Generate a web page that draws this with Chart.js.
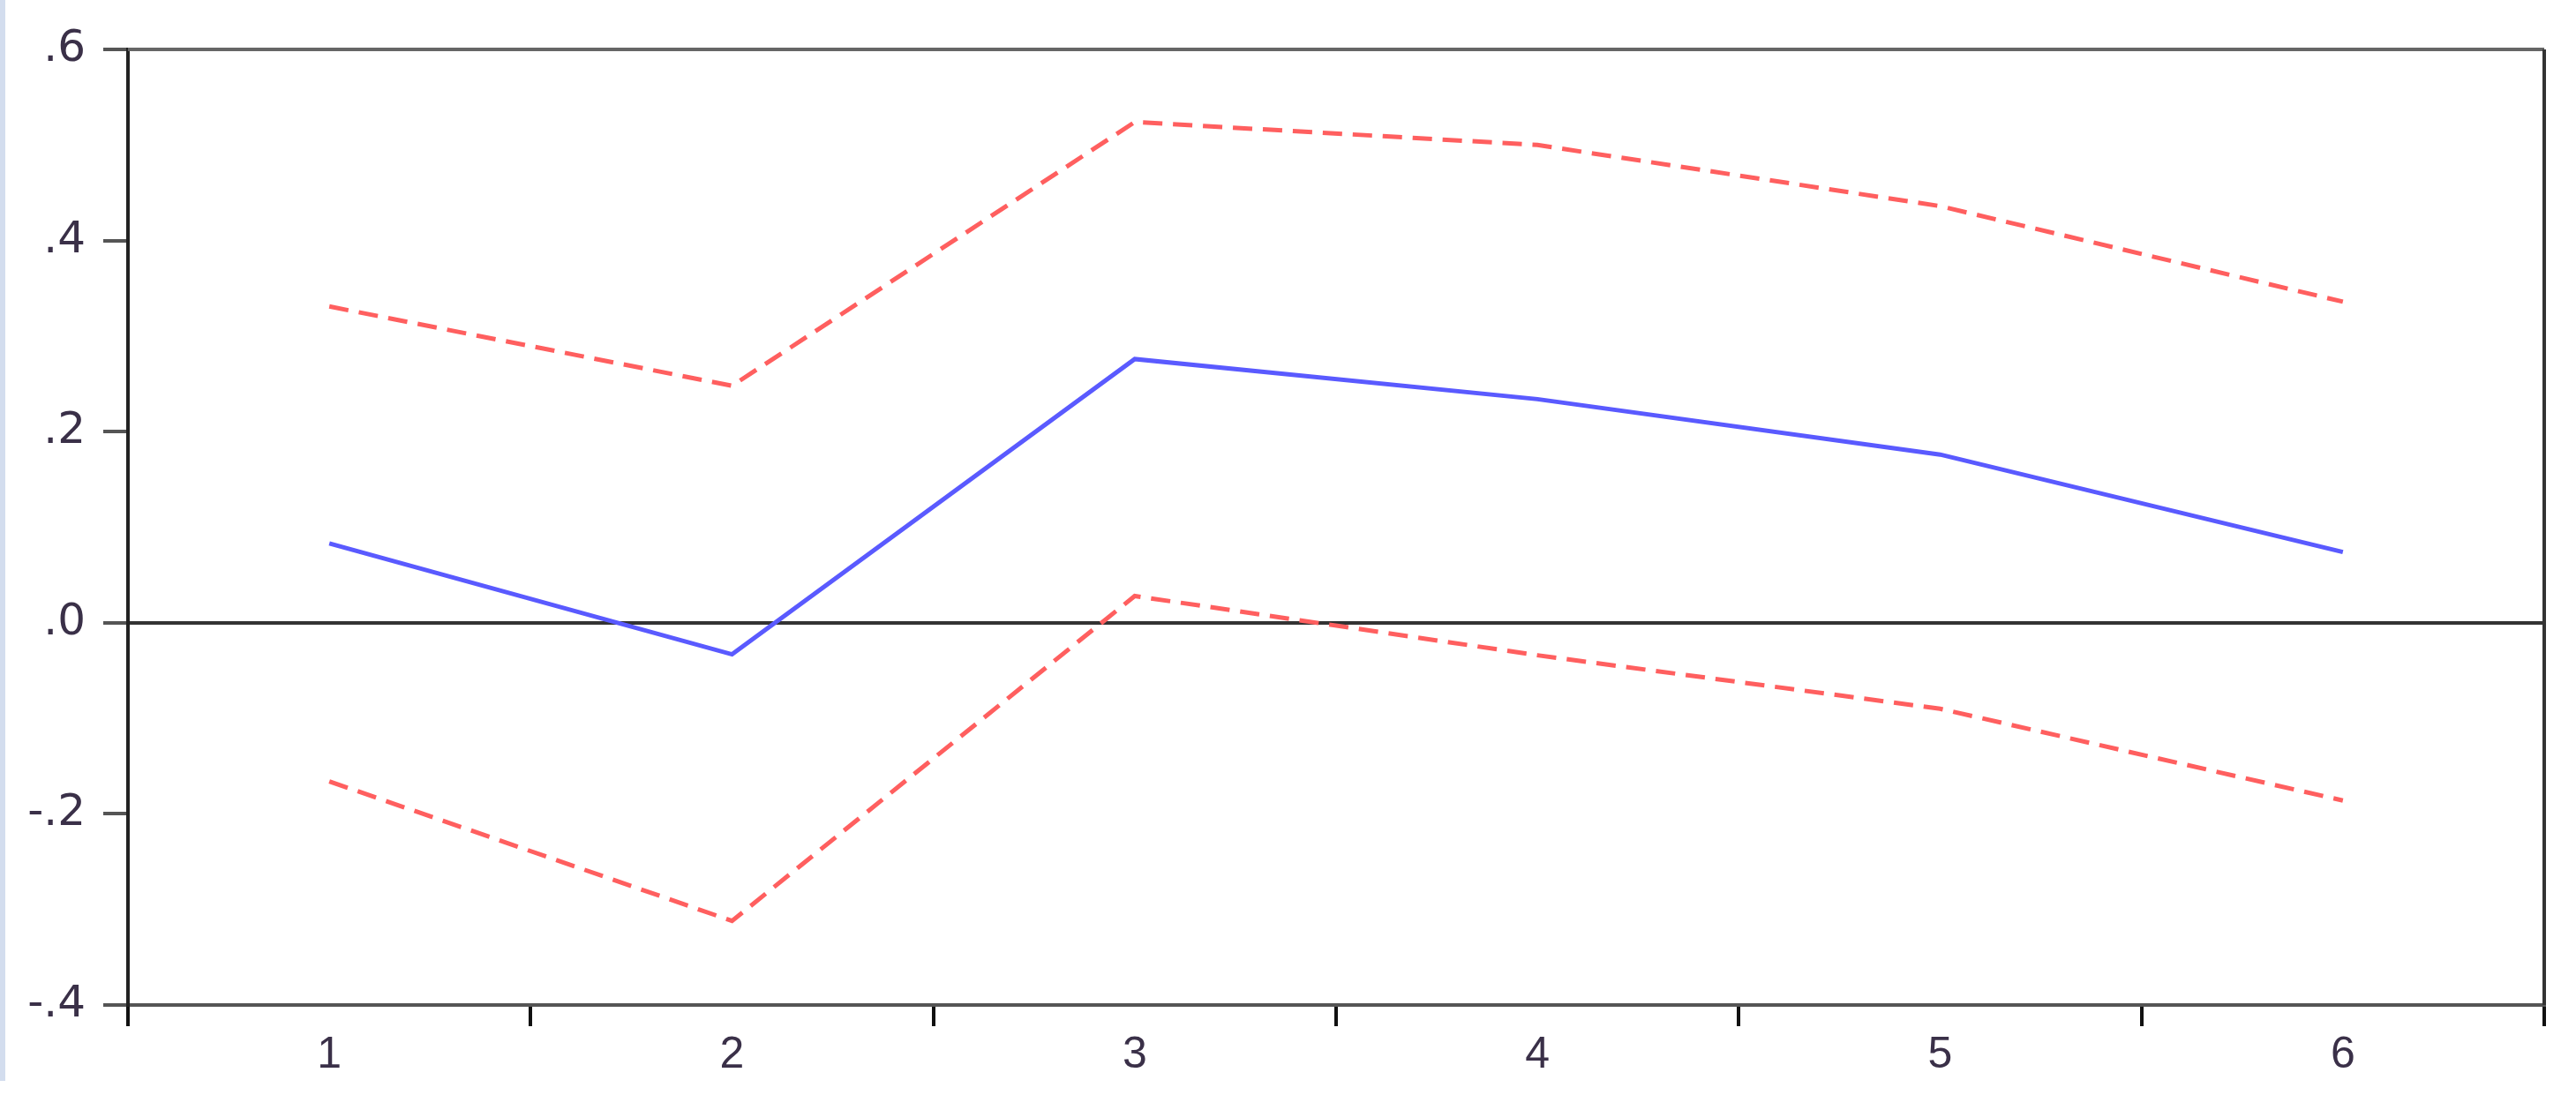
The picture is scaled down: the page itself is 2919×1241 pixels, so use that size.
<!DOCTYPE html>
<html>
<head>
<meta charset="utf-8">
<script src="https://cdn.jsdelivr.net/npm/chart.js@4/dist/chart.umd.min.js"></script>
<style>
  html, body { margin: 0; padding: 0; background: #fff; }
  #wrap { position: relative; width: 2919px; height: 1241px; }
  #stripe { position: absolute; left: 0; top: 0; width: 6px; height: 1225px; background: #d3ddee; }
  canvas { position: absolute; left: 0; top: 0; }
</style>
</head>
<body>
<div id="wrap">
  <canvas id="myChart" width="2919" height="1241"></canvas>
  <div id="stripe"></div>
</div>
<script>
// periods
const periods = ['1', '2', '3', '4', '5', '6'];
// response and +/- 2 S.E. bands
const response = [0.083, -0.033, 0.276, 0.234, 0.176, 0.074];
const upperBand = [0.331, 0.248, 0.524, 0.500, 0.436, 0.336];
const lowerBand = [-0.166, -0.312, 0.028, -0.034, -0.090, -0.186];
const yTicks = [-0.4, -0.2, 0.0, 0.2, 0.4, 0.6];

function fmt(v) {
  let s = v.toFixed(1);
  return s.replace('0.', '.');
}

// frame around the plot
const frame = {
  id: 'frame',
  afterDraw(chart) {
    const a = chart.chartArea;
    const ctx = chart.ctx;
    ctx.save();
    ctx.strokeStyle = '#666';
    ctx.lineWidth = 4;
    ctx.beginPath();
    ctx.moveTo(a.left, a.top);
    ctx.lineTo(a.right, a.top);
    ctx.stroke();
    ctx.strokeStyle = '#333';
    ctx.beginPath();
    ctx.moveTo(a.right, a.top);
    ctx.lineTo(a.right, a.bottom);
    ctx.stroke();
    ctx.restore();
  }
};

new Chart(document.getElementById('myChart'), {
  type: 'line',
  data: {
    labels: periods,
    datasets: [
      {
        label: 'Response',
        data: response,
        borderColor: 'rgb(90,90,255)',
        borderWidth: 5,
        pointRadius: 0,
        tension: 0
      },
      {
        label: 'Upper',
        data: upperBand,
        borderColor: 'rgb(255,95,95)',
        borderWidth: 5,
        borderDash: [22, 12],
        pointRadius: 0,
        tension: 0
      },
      {
        label: 'Lower',
        data: lowerBand,
        borderColor: 'rgb(255,95,95)',
        borderWidth: 5,
        borderDash: [22, 12],
        pointRadius: 0,
        tension: 0
      }
    ]
  },
  options: {
    responsive: false,
    animation: false,
    layout: { padding: { top: 56, right: 36, left: 0, bottom: 0 } },
    plugins: {
      legend: { display: false },
      tooltip: { enabled: false }
    },
    scales: {
      x: {
        type: 'category',
        offset: true,
        grid: {
          offset: true,
          drawOnChartArea: false,
          tickLength: 24,
          tickColor: '#111',
          lineWidth: 4
        },
        border: { display: true, color: '#555', width: 4 },
        ticks: {
          color: '#3a3048',
          padding: 3,
          font: { family: 'Liberation Sans, Arial, sans-serif', size: 50 },
          maxRotation: 0
        },
        afterFit: (scale) => { scale.height = 1241 - 1139; }
      },
      y: {
        min: -0.4,
        max: 0.6,
        afterBuildTicks: (scale) => { scale.ticks = yTicks.map(v => ({ value: v })); },
        grid: {
          color: (c) => (c.tick && c.tick.value === 0 ? '#333' : 'rgba(0,0,0,0)'),
          lineWidth: 4,
          tickLength: 28,
          tickColor: '#555'
        },
        border: { display: true, color: '#222', width: 4 },
        ticks: {
          color: '#3a3048',
          padding: 20,
          font: { family: 'DejaVu Sans, sans-serif', size: 50 },
          callback: (v) => fmt(v)
        },
        afterFit: (scale) => { scale.width = 145; }
      }
    }
  },
  plugins: [frame]
});
</script>
</body>
</html>
